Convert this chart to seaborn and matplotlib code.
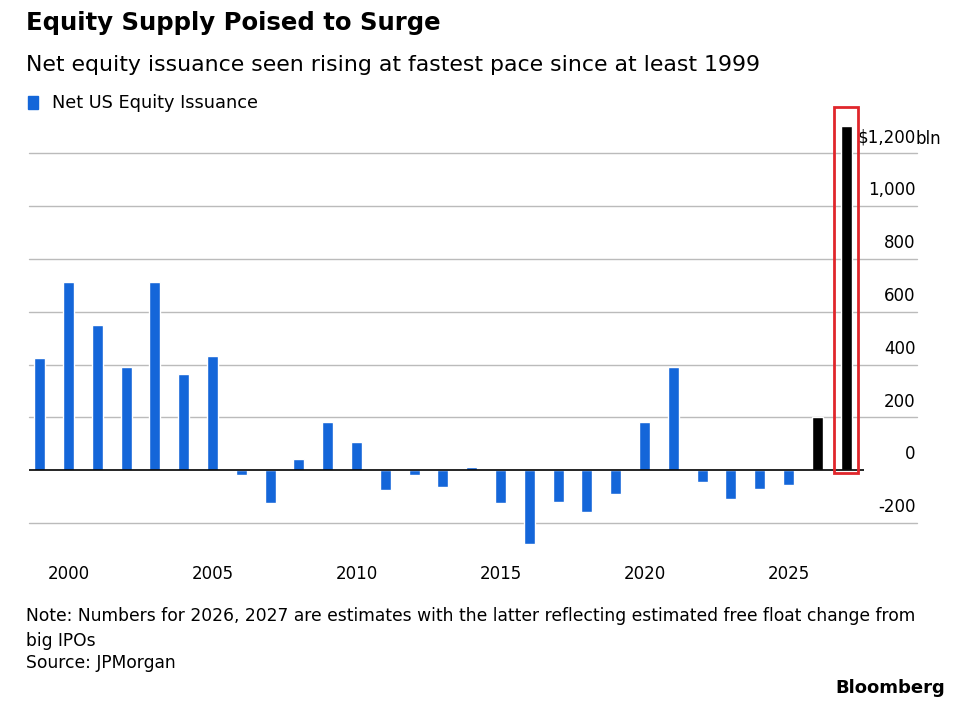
import matplotlib
matplotlib.use("Agg")
import matplotlib.pyplot as plt
import seaborn as sns
import pandas as pd
from matplotlib.patches import Rectangle
from matplotlib.transforms import ScaledTranslation

years = list(range(1999, 2028))
values = [426, 713, 551, 389, 713, 366, 434, -19, -125, 42, 181, 106, -75, -19, -64, 11,
          -125, -279, -121, -158, -91, 181, 389, -45, -109, -72, -57, 200, 1302]
kind = ["actual"] * 27 + ["estimate"] * 2
yticks = [-200, 0, 200, 400, 600, 800, 1000, 1200]
ylabels = ["-200", "0", "200", "400", "600", "800", "1,000", "$1,200"]

sns.set_style("white")
plt.rcParams['font.family'] = ['DejaVu Sans']
plt.rcParams['text.color'] = 'black'
plt.rcParams['xtick.color'] = 'black'
plt.rcParams['ytick.color'] = 'black'
df = pd.DataFrame({"year": years, "value": values, "kind": kind})

fig = plt.figure(figsize=(9.6, 7.12), dpi=100)
ax = fig.add_axes([0.03, 0.228, 0.87, 0.609])
ytr = ax.get_yaxis_transform()
for t in yticks:
    if t != 0:
        ax.plot([0, 1 + 53 / 835], [t, t], transform=ytr, color="#bbbbbb", lw=1,
                zorder=0, clip_on=False)
sns.barplot(data=df, x="year", y="value", hue="kind", native_scale=True,
            palette={"actual": "#1466d9", "estimate": "black"}, width=0.38,
            dodge=False, legend=False, ax=ax, saturation=1)
ax.axhline(0, color="black", lw=1.2, zorder=3)
ax.set_xlim(1998.62, 2027.62)
ax.set_ylim(-300, 1340)
ax.yaxis.tick_right()
ax.set_yticks(yticks)
ax.set_yticklabels(ylabels, fontsize=12)
ax.tick_params(axis="y", length=0, pad=37)
shift = ScaledTranslation(0, 5 / 72, fig.dpi_scale_trans)
for lab in ax.get_yticklabels():
    lab.set_verticalalignment("bottom")
    lab.set_horizontalalignment("right")
    lab.set_transform(lab.get_transform() + shift)
ax.annotate("bln", xy=(1, 1200), xycoords=ytr, xytext=(37, 3.5), textcoords="offset points",
            fontsize=12, ha="left", va="bottom")
ax.set_xticks(range(1999, 2028), minor=True)
ax.set_xticks([2000, 2005, 2010, 2015, 2020, 2025])
ax.set_xticklabels(["2000", "2005", "2010", "2015", "2020", "2025"], fontsize=12)
ax.tick_params(axis="x", which="both", length=5, color="#999999", pad=6)
ax.set_xlabel(""); ax.set_ylabel("")
for s in ax.spines.values():
    s.set_visible(False)
ax.add_patch(Rectangle((2026.58, -10), 0.84, 1385, fill=False, edgecolor="#e0262b", lw=2,
                       clip_on=False, zorder=5))

fig.text(0.027, 0.985, "Equity Supply Poised to Surge", fontsize=17.6, weight="bold", va="top")
fig.text(0.027, 0.909, "Net equity issuance seen rising at fastest pace since at least 1999", fontsize=15.8, va="center")
fig.patches.append(Rectangle((0.029, 0.847), 0.011, 0.018, transform=fig.transFigure,
                             color="#1466d9"))
fig.text(0.054, 0.856, "Net US Equity Issuance", fontsize=12.8, va="center")
fig.text(0.027, 0.147, "Note: Numbers for 2026, 2027 are estimates with the latter reflecting estimated free float change from\nbig IPOs", fontsize=12.3, linespacing=1.45, va="top")
fig.text(0.027, 0.069, "Source: JPMorgan", fontsize=12.3, va="center")
fig.text(0.985, 0.034, "Bloomberg", fontsize=13, weight="bold", ha="right", va="center")
fig.savefig("out.png")
